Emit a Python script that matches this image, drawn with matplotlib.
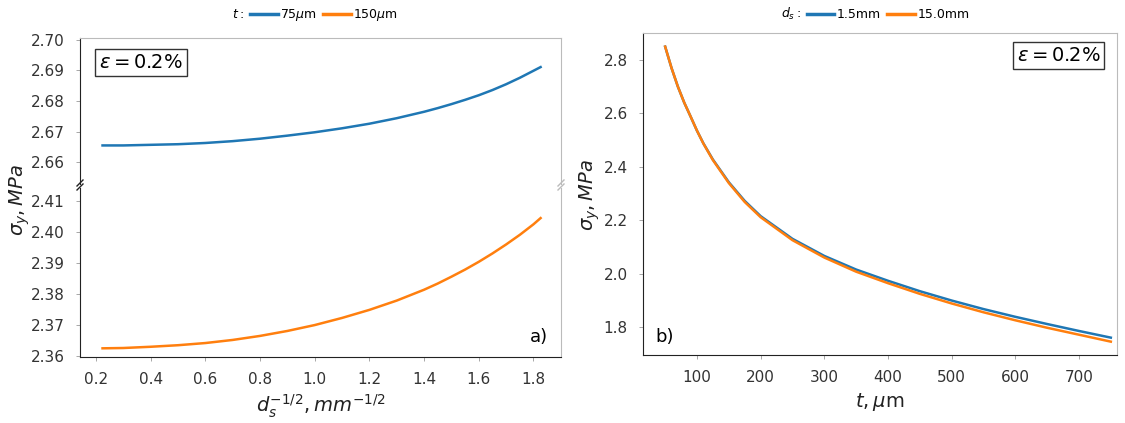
import matplotlib
matplotlib.use("Agg")
import matplotlib.pyplot as plt
from matplotlib.lines import Line2D

# ---------------- data ----------------
x_ds = [0.224, 0.3, 0.4, 0.5, 0.6, 0.7, 0.8, 0.9, 1.0, 1.1, 1.2, 1.3, 1.4, 1.45, 1.5, 1.55,
        1.6, 1.65, 1.7, 1.75, 1.8, 1.826]
sig_t75 = [2.6655, 2.6655, 2.6657, 2.6659, 2.6663, 2.6669, 2.6677, 2.6687, 2.6698, 2.6711,
           2.6726, 2.6744, 2.6765, 2.6777, 2.6790, 2.6804, 2.6819, 2.6836, 2.6855, 2.6876,
           2.6899, 2.6911]
sig_t150 = [2.3625, 2.3626, 2.3630, 2.3635, 2.3642, 2.3652, 2.3665, 2.3681, 2.3700, 2.3723,
            2.3749, 2.3779, 2.3814, 2.3834, 2.3856, 2.3879, 2.3904, 2.3931, 2.3960, 2.3991,
            2.4025, 2.4045]

t_um = [50, 60, 70, 80, 90, 100, 110, 125, 150, 175, 200, 250, 300, 350, 400, 450, 500,
        550, 600, 650, 700, 750]
sig_d15 = [2.850, 2.770, 2.700, 2.640, 2.588, 2.535, 2.488, 2.427, 2.342, 2.272, 2.215, 2.130,
           2.066, 2.015, 1.973, 1.934, 1.899, 1.867, 1.838, 1.811, 1.785, 1.760]
sig_d150 = [2.850, 2.770, 2.700, 2.640, 2.588, 2.535, 2.487, 2.425, 2.339, 2.268, 2.211, 2.125,
            2.060, 2.007, 1.964, 1.924, 1.888, 1.855, 1.825, 1.797, 1.771, 1.745]

left_xticks = [0.2, 0.4, 0.6, 0.8, 1.0, 1.2, 1.4, 1.6, 1.8]
left_top_yticks = [2.66, 2.67, 2.68, 2.69, 2.70]
left_bot_yticks = [2.36, 2.37, 2.38, 2.39, 2.40, 2.41]
right_xticks = [100, 200, 300, 400, 500, 600, 700]
right_yticks = [1.8, 2.0, 2.2, 2.4, 2.6, 2.8]

BLUE = "#1f77b4"
ORANGE = "#ff7f0e"
DARK = "#222222"
LIGHT = "#bbbbbb"

plt.rcParams['font.family'] = ['DejaVu Sans']
plt.rcParams['mathtext.fontset'] = 'dejavusans'

W, H = 1125, 423
fig = plt.figure(figsize=(W / 100, H / 100), dpi=100)


def frac(x0, y0, x1, y1):
    return [x0 / W, 1 - y1 / H, (x1 - x0) / W, (y1 - y0) / H]


def style(ax, top=True, bottom=True):
    ax.spines['left'].set_color(DARK)
    ax.spines['bottom'].set_color(DARK)
    ax.spines['top'].set_color(LIGHT)
    ax.spines['right'].set_color(LIGHT)
    ax.spines['top'].set_visible(top)
    ax.spines['bottom'].set_visible(bottom)
    ax.tick_params(axis='both', labelsize=11, length=3, width=0.6, color="#999999",
                   pad=8, labelcolor="#333333")


# ---------------- left panel (broken axis) ----------------
ax_top = fig.add_axes(frac(80, 38, 561, 184))
ax_bot = fig.add_axes(frac(80, 188, 561, 357))

ax_top.plot(x_ds, sig_t75, color=BLUE, lw=1.8)
ax_bot.plot(x_ds, sig_t150, color=ORANGE, lw=1.8)

for ax in (ax_top, ax_bot):
    ax.set_xlim(0.1416, 1.9006)
    ax.set_xticks(left_xticks)
ax_top.set_ylim(2.6529, 2.7006)
ax_top.set_yticks(left_top_yticks)
ax_top.set_yticklabels([f"{v:.2f}" for v in left_top_yticks])
ax_bot.set_ylim(2.3597, 2.4142)
ax_bot.set_yticks(left_bot_yticks)
ax_bot.set_yticklabels([f"{v:.2f}" for v in left_bot_yticks])
style(ax_top, bottom=False)
style(ax_bot, top=False)
ax_top.tick_params(axis='x', bottom=False, labelbottom=False)
ax_bot.set_xticklabels([f"{v:.1f}" for v in left_xticks])
ax_bot.set_xlabel(r"$d_s^{-1/2}, mm^{-1/2}$", fontsize=14, color="#222222", labelpad=4)

# break marks
for xp, col in ((80, DARK), (561, LIGHT)):
    kw = dict(transform=fig.transFigure, color=col, lw=1.0, clip_on=False)
    fig.add_artist(Line2D([(xp - 3) / W, (xp + 3) / W], [1 - 186 / H, 1 - 180 / H], **kw))
    fig.add_artist(Line2D([(xp - 3) / W, (xp + 3) / W], [1 - 190 / H, 1 - 184 / H], **kw))

ax_top.text(0.04, 0.83, r"$\varepsilon = 0.2\%$", transform=ax_top.transAxes, fontsize=14,
            ha='left', va='center',
            bbox=dict(boxstyle='square,pad=0.2', fc='white', ec='#333333', lw=1))
ax_bot.text(0.955, 0.12, "a)", transform=ax_bot.transAxes, fontsize=13, ha='center', va='center')

fig.text(20 / W, 1 - 200 / H, r"$\sigma_y, MPa$", rotation=90, fontsize=14,
         ha='center', va='center', color="#222222")

# legend left
h1 = [Line2D([], [], ls='none'),
      Line2D([], [], color=BLUE, lw=2.5),
      Line2D([], [], color=ORANGE, lw=2.5)]
leg1 = fig.legend(h1, [r"$t:$", r"75$\mu$m", r"150$\mu$m"], ncol=3, frameon=False,
                  loc='center', bbox_to_anchor=(300 / W, 1 - 15 / H), fontsize=9,
                  handlelength=2.2, handletextpad=0.2, columnspacing=0.5)
leg1.legend_handles[0].set_visible(False)

# ---------------- right panel ----------------
axr = fig.add_axes(frac(643, 33, 1117, 355))
axr.plot(t_um, sig_d15, color=BLUE, lw=1.8)
axr.plot(t_um, sig_d150, color=ORANGE, lw=1.8)
axr.set_xlim(15.2, 759.7)
axr.set_ylim(1.695, 2.901)
axr.set_xticks(right_xticks)
axr.set_yticks(right_yticks)
axr.set_yticklabels([f"{v:.1f}" for v in right_yticks])
style(axr)
axr.set_xlabel(r"$t,\mu$m", fontsize=14, color="#222222", labelpad=4)
axr.text(0.965, 0.93, r"$\varepsilon = 0.2\%$", transform=axr.transAxes, fontsize=14,
         ha='right', va='center',
         bbox=dict(boxstyle='square,pad=0.2', fc='white', ec='#333333', lw=1))
axr.text(0.045, 0.057, "b)", transform=axr.transAxes, fontsize=13, ha='center', va='center')
fig.text(590 / W, 1 - 195 / H, r"$\sigma_y, MPa$", rotation=90, fontsize=14,
         ha='center', va='center', color="#222222")

h2 = [Line2D([], [], ls='none'),
      Line2D([], [], color=BLUE, lw=2.5),
      Line2D([], [], color=ORANGE, lw=2.5)]
leg2 = fig.legend(h2, [r"$d_s:$", "1.5mm", "15.0mm"], ncol=3, frameon=False,
                  loc='center', bbox_to_anchor=(860 / W, 1 - 14 / H), fontsize=9,
                  handlelength=2.2, handletextpad=0.2, columnspacing=0.5)
leg2.legend_handles[0].set_visible(False)

fig.savefig("out.png", dpi=100, facecolor='white')
